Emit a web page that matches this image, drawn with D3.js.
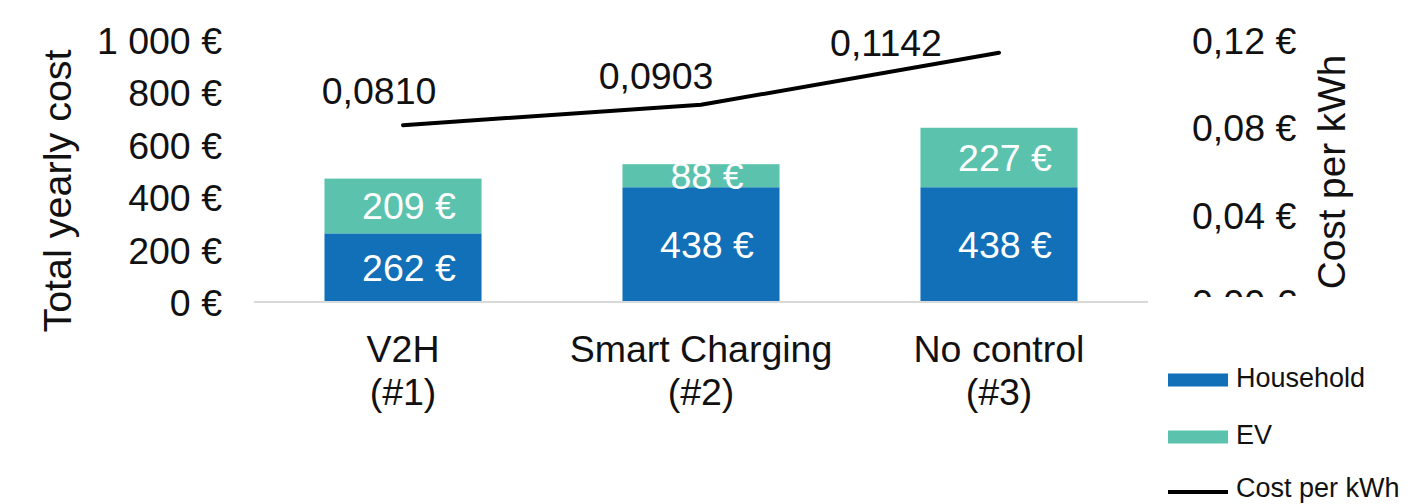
<!doctype html>
<html>
<head>
<meta charset="utf-8">
<script src="https://cdn.jsdelivr.net/npm/d3@7"></script>
<style>
  html, body { margin: 0; padding: 0; background: #fff; }
  svg { display: block; font-family: "Liberation Sans", Arial, sans-serif; }
</style>
</head>
<body>
<svg id="chart" width="1411" height="504"></svg>
<script>
  // data
  var categories = ['V2H\n(#1)', 'Smart Charging\n(#2)', 'No control\n(#3)'];
  var household = [262, 438, 438];
  var ev = [209, 88, 227];
  var costPerKwh = [0.0810, 0.0903, 0.1142];
  var leftTicks = [0, 200, 400, 600, 800, 1000];
  var rightTicks = [0, 0.04, 0.08, 0.12];

  // layout
  var plot = { left: 254, right: 1148, top: 40, bottom: 302 };
  var colors = { household: '#1170b8', ev: '#5bc3ad', line: '#000', text: '#111', axis: '#d9d9d9' };
  var fontSize = 37.5;
  // label offsets for the cost line (manually nudged in the original)
  var lineLabelShift = [[-24, -21], [-45, -16], [-113, 3]];

  var svg = d3.select('#chart');

  var x = d3.scaleBand()
    .domain(categories)
    .range([plot.left, plot.right])
    .paddingInner(0.473)
    .paddingOuter(0.2365);

  var yLeft = d3.scaleLinear().domain([0, 1000]).range([plot.bottom, plot.top]);
  var yRight = d3.scaleLinear().domain([0, 0.12]).range([plot.bottom, plot.top]);

  var euro = function (v) {
    return d3.format(',')(v).replace(/,/g, ' ') + ' €';
  };
  var euroDec = function (v) {
    return d3.format('.2f')(v).replace('.', ',') + ' €';
  };

  // stacked bars
  var rows = categories.map(function (c, i) {
    return { cat: c, household: household[i], ev: ev[i] };
  });
  var series = d3.stack().keys(['household', 'ev'])(rows);

  var layers = svg.append('g').selectAll('g')
    .data(series)
    .join('g')
    .attr('fill', function (d) { return colors[d.key]; });

  layers.selectAll('rect')
    .data(function (d) { return d; })
    .join('rect')
    .attr('x', function (d) { return x(d.data.cat); })
    .attr('width', x.bandwidth())
    .attr('y', function (d) { return yLeft(d[1]); })
    .attr('height', function (d) { return yLeft(d[0]) - yLeft(d[1]); });

  layers.selectAll('text')
    .data(function (d) { return d; })
    .join('text')
    .attr('x', function (d) { return x(d.data.cat) + x.bandwidth() / 2 + 6; })
    .attr('y', function (d) { return (yLeft(d[0]) + yLeft(d[1])) / 2; })
    .attr('dy', '0.36em')
    .attr('text-anchor', 'middle')
    .attr('fill', '#fff')
    .attr('font-size', fontSize)
    .text(function (d) { return euro(d[1] - d[0]); });

  // baseline
  svg.append('line')
    .attr('x1', plot.left).attr('x2', plot.right)
    .attr('y1', yLeft(0)).attr('y2', yLeft(0))
    .attr('stroke', colors.axis).attr('stroke-width', 2);

  // left axis
  var gl = svg.append('g')
    .attr('transform', 'translate(222,0)')
    .call(d3.axisLeft(yLeft).tickValues(leftTicks).tickSize(0).tickPadding(0).tickFormat(euro));
  gl.select('.domain').remove();
  gl.selectAll('text')
    .attr('font-size', fontSize)
    .attr('font-family', '"Liberation Sans", Arial, sans-serif')
    .attr('fill', colors.text)
    .attr('dy', '0.36em');

  // right axis (bottom label is clipped in the original)
  svg.append('clipPath').attr('id', 'rclip')
    .append('rect').attr('x', 1150).attr('y', 0).attr('width', 200).attr('height', 297);
  var gr = svg.append('g')
    .attr('clip-path', 'url(#rclip)')
    .append('g')
    .attr('transform', 'translate(1192,0)')
    .call(d3.axisRight(yRight).tickValues(rightTicks).tickSize(0).tickPadding(0).tickFormat(euroDec));
  gr.select('.domain').remove();
  gr.selectAll('text')
    .attr('font-size', fontSize)
    .attr('font-family', '"Liberation Sans", Arial, sans-serif')
    .attr('fill', colors.text)
    .attr('dy', '0.36em');

  // category labels
  var gx = svg.append('g');
  categories.forEach(function (c) {
    var t = gx.append('text')
      .attr('text-anchor', 'middle')
      .attr('font-size', fontSize)
      .attr('fill', colors.text);
    c.split('\n').forEach(function (part, j) {
      t.append('tspan')
        .attr('x', x(c) + x.bandwidth() / 2)
        .attr('y', 362 + j * 43)
        .text(part);
    });
  });

  // axis titles
  svg.append('text')
    .attr('transform', 'translate(71,191) rotate(-90)')
    .attr('text-anchor', 'middle')
    .attr('font-size', 39.5)
    .attr('fill', colors.text)
    .text('Total yearly cost');

  svg.append('text')
    .attr('transform', 'translate(1345,172) rotate(-90)')
    .attr('text-anchor', 'middle')
    .attr('font-size', 38.7)
    .attr('fill', colors.text)
    .text('Cost per kWh');

  // cost per kWh line
  var line = d3.line()
    .x(function (d, i) { return x(categories[i]) + x.bandwidth() / 2; })
    .y(function (d) { return yRight(d); });

  svg.append('path')
    .datum(costPerKwh)
    .attr('d', line)
    .attr('fill', 'none')
    .attr('stroke', colors.line)
    .attr('stroke-width', 4)
    .attr('stroke-linecap', 'round')
    .attr('stroke-linejoin', 'round');

  svg.append('g').selectAll('text')
    .data(costPerKwh)
    .join('text')
    .attr('x', function (d, i) { return x(categories[i]) + x.bandwidth() / 2 + lineLabelShift[i][0]; })
    .attr('y', function (d, i) { return yRight(d) + lineLabelShift[i][1]; })
    .attr('text-anchor', 'middle')
    .attr('font-size', fontSize)
    .attr('fill', colors.text)
    .text(function (d) { return d3.format('.4f')(d).replace('.', ','); });

  // legend
  var legendItems = [
    { label: 'Household', type: 'rect', color: colors.household },
    { label: 'EV', type: 'rect', color: colors.ev },
    { label: 'Cost per kWh', type: 'line', color: colors.line }
  ];
  var lg = svg.append('g');
  legendItems.forEach(function (d, i) {
    var cy = 380 + i * 57;
    if (d.type === 'rect') {
      lg.append('rect')
        .attr('x', 1168).attr('y', cy - 6.5)
        .attr('width', 60).attr('height', 13)
        .attr('fill', d.color);
    } else {
      lg.append('line')
        .attr('x1', 1168).attr('x2', 1228)
        .attr('y1', cy - 2).attr('y2', cy - 2)
        .attr('stroke', d.color).attr('stroke-width', 4);
    }
    lg.append('text')
      .attr('x', 1236).attr('y', cy + (d.type === 'line' ? 3 : 7))
      .attr('font-size', 27)
      .attr('fill', colors.text)
      .text(d.label);
  });
</script>
</body>
</html>
